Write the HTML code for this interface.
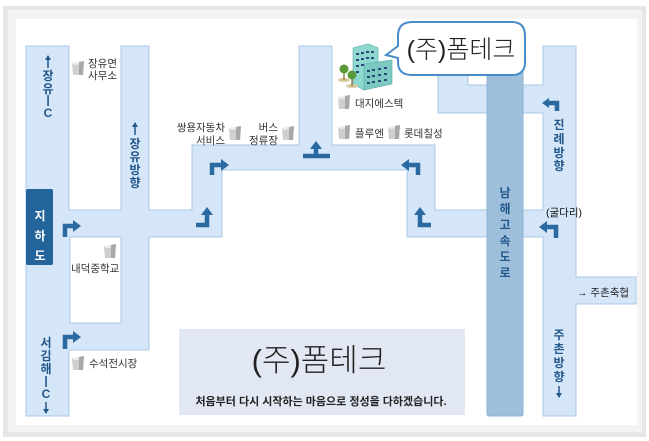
<!DOCTYPE html>
<html><head><meta charset="utf-8"><style>
html,body{margin:0;padding:0;background:#fff}
svg{display:block}
text{font-family:"Liberation Sans","Noto Sans CJK KR",sans-serif}
</style></head><body>
<svg width="649" height="441" viewBox="0 0 649 441" xmlns="http://www.w3.org/2000/svg">
<rect x="0" y="0" width="649" height="441" fill="#fff"/>
<rect x="3" y="6" width="643" height="431" fill="#e6e6e6"/>
<rect x="8" y="10" width="634" height="422" fill="#f3f3f3"/>
<rect x="16" y="19" width="621" height="406" fill="#fff"/>

<g fill="#d4e6f7" stroke="#a9c9e8" stroke-width="1">
<path d="M26,46 H69 V210 H121 V46 H149 V210 H192 V145 H299 V46 H332 V145 H435 V210 H487 V237 H407 V170 H222 V237 H149 V350 H69 V416 H26 Z"/>
<path d="M438,75 H468 V85 H543 V46 H576 V277 H636 V304 H576 V416 H543 V237 H523 V210 H543 V113 H438 Z"/>
</g>
<rect x="70" y="237" width="51" height="86" fill="#fff" stroke="#a9c9e8"/>
<rect x="26" y="189" width="27" height="76" rx="2" fill="#23649b"/>
<rect x="487" y="65" width="36" height="351" rx="2" fill="#9dbfdc" stroke="#8fb3d4"/>

<rect x="179" y="329" width="286" height="86" fill="#e1e8f4"/>
<text x="319" y="371" font-size="31" text-anchor="middle" fill="#222" font-weight="300">(주)폼테크</text>
<text x="321" y="405" font-size="11" text-anchor="middle" fill="#222" font-weight="bold">처음부터 다시 시작하는 마음으로 정성을 다하겠습니다.</text>

<!-- bubble -->
<path d="M412,22 H512 Q525,22 525,36 V62 Q525,75 512,75 H412 Q398,75 398,62 V58 L386,55 L398,46 V36 Q398,22 412,22 Z" fill="#fff" stroke="#4a8cc8" stroke-width="2"/>
<text x="461" y="58" font-size="25" text-anchor="middle" fill="#222" font-weight="300">(주)폼테크</text>

<!-- building -->
<g>
<polygon points="353,48 368,44 378,48 378,85 364,90 353,84" fill="#8fd8d0" stroke="#5aa" stroke-width="0.6"/>
<polygon points="364,64 392,60 392,84 364,90" fill="#7cc9c2" stroke="#5aa" stroke-width="0.6"/>
<g fill="#2a4a7a">
<rect x="356" y="53" width="3" height="2"/><rect x="361" y="52" width="3" height="2"/><rect x="366" y="51" width="3" height="2"/><rect x="371" y="51" width="3" height="2"/>
<rect x="356" y="59" width="3" height="2"/><rect x="361" y="58" width="3" height="2"/><rect x="366" y="57" width="3" height="2"/><rect x="371" y="57" width="3" height="2"/>
<rect x="356" y="65" width="3" height="2"/><rect x="361" y="64" width="3" height="2"/><rect x="367" y="70" width="3" height="2"/><rect x="372" y="69" width="3" height="2"/><rect x="378" y="68" width="3" height="2"/><rect x="384" y="67" width="3" height="2"/>
<rect x="356" y="71" width="3" height="2"/><rect x="367" y="76" width="3" height="2"/><rect x="372" y="75" width="3" height="2"/><rect x="378" y="74" width="3" height="2"/><rect x="384" y="73" width="3" height="2"/>
<rect x="367" y="82" width="3" height="2"/><rect x="372" y="81" width="3" height="2"/><rect x="378" y="80" width="3" height="2"/><rect x="384" y="79" width="3" height="2"/>
</g>
<ellipse cx="344" cy="80" rx="6" ry="2" fill="#d8c99a"/><ellipse cx="352" cy="86" rx="6" ry="2" fill="#d8c99a"/>
<path d="M344,80 V70 M352,86 V76" stroke="#8a6a3a" stroke-width="1.2"/>
<circle cx="344" cy="69" r="4.5" fill="#5a9a3a"/><circle cx="352" cy="75" r="4.5" fill="#5a9a3a"/>
</g>

<!-- gray cup icons -->
<defs><g id="cup"><polygon points="0,2 12,0 11,14 1,14" fill="#cfcfcf"/><polygon points="0,2 12,0 10,3 2,4" fill="#eee"/><polygon points="7,1 12,0 11,14 7,14" fill="#a8a8a8"/></g></defs>
<use href="#cup" x="72" y="61"/>
<use href="#cup" x="229" y="126"/>
<use href="#cup" x="282" y="126"/>
<use href="#cup" x="338" y="95"/>
<use href="#cup" x="338" y="125"/>
<use href="#cup" x="388" y="125"/>
<use href="#cup" x="104" y="244"/>
<use href="#cup" x="72" y="356"/>

<g font-size="10.5" fill="#333">
<text x="88" y="67">장유면</text><text x="88" y="79">사무소</text>
<text x="225" y="131" text-anchor="end">쌍용자동차</text><text x="225" y="144" text-anchor="end">서비스</text>
<text x="278" y="131" text-anchor="end">버스</text><text x="278" y="144" text-anchor="end">정류장</text>
<text x="355" y="107">대지에스텍</text>
<text x="355" y="137">플루엔</text><text x="404" y="137">롯데칠성</text>
<text x="71" y="272">내덕중학교</text>
<text x="89" y="367">수석전시장</text>
<text x="546" y="216" fill="#111">(굴다리)</text>
<text x="577" y="296" fill="#222">→ 주촌축협</text>
</g>

<g font-size="12" fill="#24578a" font-weight="bold" text-anchor="middle">
<text x="48" y="80">장</text><text x="48" y="93">유</text><text x="48" y="105">ㅣ</text><text x="48" y="117">C</text>
<text x="135" y="148">장</text><text x="135" y="161">유</text><text x="135" y="174">방</text><text x="135" y="187">향</text>
<text x="46" y="347">서</text><text x="46" y="360">김</text><text x="46" y="373">해</text><text x="46" y="386">ㅣ</text><text x="46" y="398">C</text>
<text x="559" y="129">진</text><text x="559" y="143">례</text><text x="559" y="157">방</text><text x="559" y="170">향</text>
<text x="559" y="339">주</text><text x="559" y="353">촌</text><text x="559" y="367">방</text><text x="559" y="381">향</text>
<text x="40" y="220" fill="#fff">지</text><text x="40" y="240" fill="#fff">하</text><text x="40" y="260" fill="#fff">도</text>
</g>
<!-- small label arrows -->
<g stroke="#24578a" stroke-width="1.5" fill="#24578a">
<path d="M48,57 V68"/><polygon points="45,60 48,55 51,60" stroke="none"/>
<path d="M135,124 V135"/><polygon points="132,127 135,122 138,127" stroke="none"/>
<path d="M46,402 V412"/><polygon points="43,409 46,414 49,409" stroke="none"/>
<path d="M559,386 V396"/><polygon points="556,393 559,398 562,393" stroke="none"/>
</g>
<g font-size="12" fill="#24578a" font-weight="bold" text-anchor="middle">
<text x="505" y="197">남</text><text x="505" y="213">해</text><text x="505" y="229">고</text><text x="505" y="245">속</text><text x="505" y="261">도</text><text x="505" y="277">로</text>
</g>

<!-- arrows -->
<g fill="none" stroke="#2a6aa0" stroke-width="4.5">
<path d="M65,237 V226 H74"/>
<path d="M65,349 V337 H74"/>
<path d="M196,225 H207 V214"/>
<path d="M212,175 V165 H222"/>
<path d="M303,156 H330 M316,156 V148"/>
<path d="M418,175 V165 H408"/>
<path d="M431,225 H420 V214"/>
<path d="M557,111 V103 H548"/>
<path d="M556,238 V227 H546"/>
</g>
<g fill="#2a6aa0">
<polygon points="73,220 81,226 73,232"/>
<polygon points="73,331 81,337 73,343"/>
<polygon points="201,215 207,207 213,215"/>
<polygon points="221,159 229,165 221,171"/>
<polygon points="310,149 316,141 322,149"/>
<polygon points="409,159 401,165 409,171"/>
<polygon points="414,215 420,207 426,215"/>
<polygon points="549,98 542,103 549,108"/>
<polygon points="547,221 539,227 547,233"/>
</g>
</svg>
</body></html>
